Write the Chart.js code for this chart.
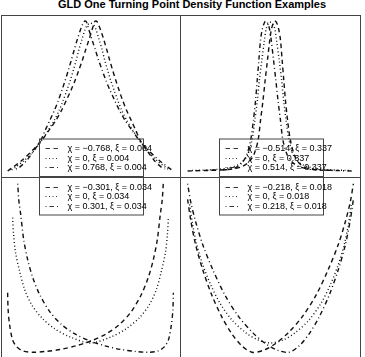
<!DOCTYPE html>
<html>
<head>
<meta charset="utf-8">
<script src="https://cdn.jsdelivr.net/npm/chart.js@4"></script>
<style>
  html, body { margin: 0; padding: 0; background: #fff; overflow: hidden; width: 365px; height: 357px; }
  #title { position: absolute; left: 0; width: 384px; top: -2px; text-align: center;
           font: bold 11px "Liberation Sans", Arial, sans-serif; color: #000; }
  canvas { position: absolute; }
  .box { position: absolute; box-sizing: border-box; border: 1px solid #444; pointer-events: none; }
</style>
</head>
<body>
<div id="title">GLD One Turning Point Density Function Examples</div>
<canvas id="tl" width="179" height="162" style="left:1px;top:15px"></canvas>
<canvas id="tr" width="179" height="162" style="left:181px;top:15px"></canvas>
<canvas id="bl" width="179" height="182" style="left:1px;top:177px"></canvas>
<canvas id="br" width="179" height="182" style="left:181px;top:177px"></canvas>
<div class="box" style="left:1px;top:15px;width:180px;height:163px"></div>
<div class="box" style="left:180px;top:15px;width:181px;height:163px"></div>
<div class="box" style="left:1px;top:177px;width:180px;height:190px"></div>
<div class="box" style="left:180px;top:177px;width:181px;height:190px"></div>
<script>
// legend texts
const tlLabels = ['χ = −0.768, ξ = 0.004', 'χ = 0, ξ = 0.004', 'χ = 0.768, ξ = 0.004'];
const trLabels = ['χ = −0.514, ξ = 0.337', 'χ = 0, ξ = 0.337', 'χ = 0.514, ξ = 0.337'];
const blLabels = ['χ = −0.301, ξ = 0.034', 'χ = 0, ξ = 0.034', 'χ = 0.301, ξ = 0.034'];
const brLabels = ['χ = −0.218, ξ = 0.018', 'χ = 0, ξ = 0.018', 'χ = 0.218, ξ = 0.018'];

// curves, x and density both scaled to 0..100 of each panel's range
const tlDashX = [0, 3, 8.5, 15, 20.6, 25, 29.2, 32.6, 35.5, 38.3, 40.8, 43, 45.2, 47.1, 49.1, 51, 51.9, 52.5, 53.2, 54, 54.8, 56, 58, 59.8, 61.5, 63.3, 65.2, 67.2, 69.3, 71.7, 74.5, 77.3, 80, 84, 88.5, 93, 95];
const tlDashY = [0, 2.3, 7, 13.8, 20.5, 27.2, 33.9, 40.6, 47.3, 54, 60.7, 67.4, 74.2, 80.9, 87.6, 94.3, 97.7, 99.5, 100, 99.5, 97.7, 94.3, 87.6, 80.9, 74.2, 67.4, 60.7, 54, 47.3, 40.6, 33.9, 27.2, 20.5, 13.8, 7, 2.3, 1.3];
const tlDotX = [2.4, 4.5, 10, 16.1, 20.6, 24.5, 28.2, 31.2, 33.6, 35.8, 37.9, 39.7, 41.5, 43, 44.8, 46.7, 47.9, 49.1, 50, 50.9, 52.1, 53.3, 55.2, 57, 58.5, 60.3, 62.1, 64.2, 66.4, 68.8, 71.8, 75.5, 79.4, 83.9, 90, 95.5, 97.6];
const tlDotY = [0.7, 2.3, 7, 13.8, 20.5, 27.2, 33.9, 40.6, 47.3, 54, 60.7, 67.4, 74.2, 80.9, 87.6, 94.3, 97, 98.2, 98.6, 98.2, 97, 94.3, 87.6, 80.9, 74.2, 67.4, 60.7, 54, 47.3, 40.6, 33.9, 27.2, 20.5, 13.8, 7, 2.3, 0.7];
const tlDotDashX = [5, 7, 11.5, 16, 20, 22.7, 25.5, 28.3, 30.7, 32.8, 34.8, 36.7, 38.5, 40.2, 42, 44, 45.2, 46, 46.8, 47.5, 48.1, 49, 50.9, 52.9, 54.8, 57, 59.2, 61.7, 64.5, 67.4, 70.8, 75, 79.4, 85, 91.5, 97, 100];
const tlDotDashY = [1.3, 2.3, 7, 13.8, 20.5, 27.2, 33.9, 40.6, 47.3, 54, 60.7, 67.4, 74.2, 80.9, 87.6, 94.3, 97.7, 99.5, 100, 99.5, 97.7, 94.3, 87.6, 80.9, 74.2, 67.4, 60.7, 54, 47.3, 40.6, 33.9, 27.2, 20.5, 13.8, 7, 2.3, 0];

const trDashX = [0, 10, 20, 28, 33, 37, 40, 42.5, 44, 45.5, 46.8, 48.2, 49.6, 50.5, 51.5, 52.5, 53.5, 54.3, 55, 56, 57, 58, 59, 60.3, 62, 64.5, 67.5, 71, 77, 88];
const trDashY = [0, 0.3, 0.7, 1.5, 3, 6, 11, 20.5, 33.9, 47.3, 60.7, 74.2, 87.6, 94.3, 98, 100, 99.3, 97, 94.3, 87.6, 74.2, 60.7, 47.3, 33.9, 20.5, 10.4, 5, 2.3, 0.8, 0.4];
const trDotX = [2.7, 16.7, 25.8, 31.8, 36.1, 38.8, 40.6, 42.1, 43.3, 44.8, 46.4, 47.3, 48.2, 49.1, 50, 50.9, 51.8, 52.7, 53.6, 55.2, 56.7, 57.9, 59.4, 61.2, 63.9, 68.2, 74.2, 83.3, 97.3];
const trDotY = [0.3, 1, 2.3, 5, 10.4, 20.5, 33.9, 47.3, 60.7, 74.2, 87.6, 94.3, 97.2, 98.8, 99.2, 98.8, 97.2, 94.3, 87.6, 74.2, 60.7, 47.3, 33.9, 20.5, 10.4, 5, 2.3, 1, 0.3];
const trDotDashX = [12, 23, 29, 32.5, 35.5, 38, 39.7, 41, 42, 43, 44, 45, 45.7, 46.5, 47.5, 48.5, 49.5, 50.4, 51.8, 53.2, 54.5, 56, 57.5, 60, 63, 67, 72, 80, 90, 100];
const trDotDashY = [0.4, 0.8, 2.3, 5, 10.4, 20.5, 33.9, 47.3, 60.7, 74.2, 87.6, 94.3, 97, 99.3, 100, 98, 94.3, 87.6, 74.2, 60.7, 47.3, 33.9, 20.5, 11, 6, 3, 1.5, 0.7, 0.3, 0];

const blDashX = [0, 0.3, 1.2, 3, 5.5, 9.1, 15.2, 23, 32.1, 41.2, 50.3, 59.4, 67.3, 74.5, 80.6, 84.8, 87.9, 90.3, 92.1, 93.3, 93.9];
const blDashY = [35.3, 25.2, 16.3, 7.3, 3.2, 0.8, 0, 0.5, 1.7, 3.8, 6.7, 10.9, 16.3, 24, 34.1, 44.2, 54.9, 66.8, 81.7, 90.7, 100];
const blDotX = [3, 3.6, 4.8, 7.3, 10.3, 14.5, 20.6, 28.5, 37.6, 50, 62.4, 71.5, 79.4, 85.5, 89.7, 92.7, 95.2, 96.4, 97];
const blDotY = [79.9, 69.8, 59.1, 47.8, 37.1, 28.2, 20.4, 13.9, 9.1, 5.5, 9.1, 13.9, 20.4, 28.2, 37.1, 47.8, 59.1, 69.8, 79.9];
const blDotDashX = [6.1, 6.7, 7.9, 9.7, 12.1, 15.2, 19.4, 25.5, 32.7, 40.6, 49.7, 58.8, 67.9, 77, 84.8, 90.9, 94.5, 97, 98.8, 99.7, 100];
const blDotDashY = [100, 90.7, 81.7, 66.8, 54.9, 44.2, 34.1, 24, 16.3, 10.9, 6.7, 3.8, 1.7, 0.5, 0, 0.8, 3.2, 7.3, 16.3, 25.2, 35.3];

const brDashX = [0, 1.8, 4.8, 9.1, 14.5, 20.6, 26.7, 32.7, 38.8, 45.5, 52.7, 60.6, 69.1, 77.6, 84.8, 90.9, 95.2, 98.2, 100];
const brDashY = [90.7, 78.8, 63.9, 49, 34.1, 21, 10.9, 3.8, 0, 1.1, 4.9, 11.5, 21, 34.1, 49, 63.9, 77.6, 89.5, 100];
const brDotX = [1.2, 3, 5.5, 9.1, 13.9, 19.4, 26.7, 35.2, 42.4, 50, 57.6, 64.8, 73.3, 80.6, 86.1, 90.9, 94.5, 97, 98.8];
const brDotY = [87.7, 75.8, 63.9, 52, 40.1, 29.3, 19.2, 11.5, 7.3, 5.5, 7.3, 11.5, 19.2, 29.3, 40.1, 52, 63.9, 75.8, 87.7];
const brDotDashX = [0, 1.8, 4.8, 9.1, 15.2, 22.4, 30.9, 39.4, 47.3, 54.5, 61.2, 67.3, 73.3, 79.4, 85.5, 90.9, 95.2, 98.2, 100];
const brDotDashY = [100, 89.5, 77.6, 63.9, 49, 34.1, 21, 11.5, 4.9, 1.1, 0, 3.8, 10.9, 21, 34.1, 49, 63.9, 78.8, 90.7];

const dashes = [[4.5, 3.5], [1, 2.5], [1, 3, 4.5, 3]];
const ink = '#111';

const boxLegend = {
  id: 'boxLegend',
  afterDraw(chart, args, opts) {
    const ctx = chart.ctx;
    const w = 104, h = 37.5;
    const left = Math.round(chart.width / 2 - w / 2) + 0.5;
    const top = opts.where === 'bottom' ? chart.height - h - 0.5 : 0.5;
    ctx.save();
    ctx.strokeStyle = '#444';
    ctx.lineWidth = 1;
    ctx.strokeRect(left, top, w, h);
    ctx.font = '9px "Liberation Sans", Arial, sans-serif';
    ctx.textBaseline = 'middle';
    ctx.fillStyle = '#000';
    opts.labels.forEach((t, i) => {
      const y = Math.round(top + 9 + i * 9.5) + 0.5;
      ctx.strokeStyle = '#333';
      ctx.setLineDash(dashes[i]);
      ctx.beginPath();
      ctx.moveTo(left + 6, y);
      ctx.lineTo(left + 20, y);
      ctx.stroke();
      ctx.setLineDash([]);
      ctx.fillText(t, left + 28, y);
    });
    ctx.restore();
  }
};

function pts(xs, ys) {
  return xs.map((x, i) => ({ x, y: ys[i] }));
}

function panel(id, curves, labels, where) {
  return new Chart(document.getElementById(id), {
    type: 'scatter',
    data: {
      datasets: curves.map((c, i) => ({
        data: pts(c[0], c[1]),
        showLine: true,
        borderColor: ink,
        borderWidth: 1.4,
        borderDash: dashes[i],
        pointRadius: 0,
        fill: false,
        tension: 0.3
      }))
    },
    options: {
      responsive: false,
      animation: false,
      events: [],
      layout: { padding: 0 },
      scales: {
        x: { type: 'linear', min: -4, max: 104, display: false },
        y: { type: 'linear', min: -4, max: 104, display: false }
      },
      plugins: {
        legend: { display: false },
        tooltip: { enabled: false },
        boxLegend: { labels, where }
      }
    },
    plugins: [boxLegend]
  });
}

panel('tl', [[tlDashX, tlDashY], [tlDotX, tlDotY], [tlDotDashX, tlDotDashY]], tlLabels, 'bottom');
panel('tr', [[trDashX, trDashY], [trDotX, trDotY], [trDotDashX, trDotDashY]], trLabels, 'bottom');
panel('bl', [[blDashX, blDashY], [blDotX, blDotY], [blDotDashX, blDotDashY]], blLabels, 'top');
panel('br', [[brDashX, brDashY], [brDotX, brDotY], [brDotDashX, brDotDashY]], brLabels, 'top');
</script>
</body>
</html>
